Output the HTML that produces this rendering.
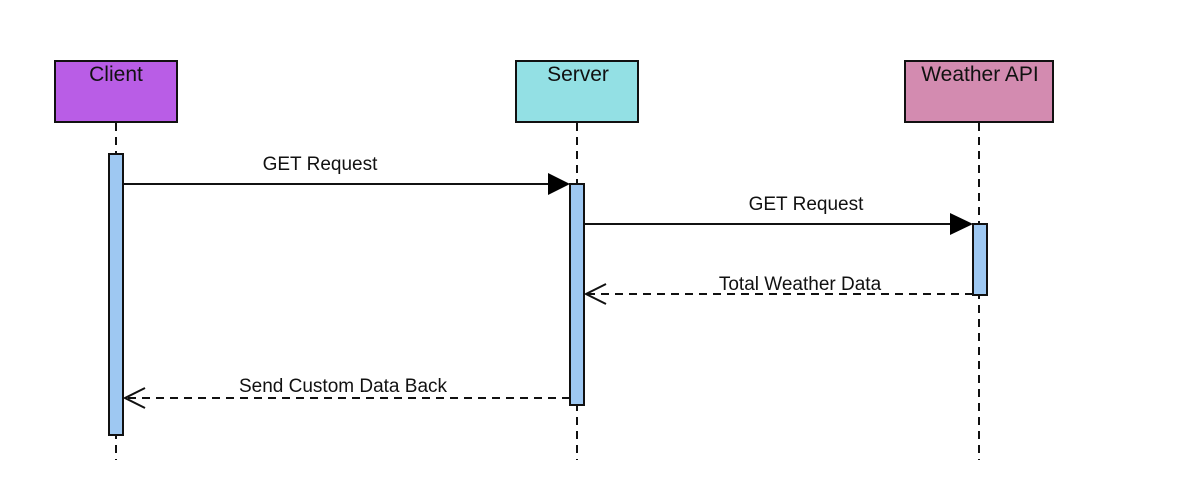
<!DOCTYPE html>
<html><head><style>body{margin:0;background:#fff}svg{display:block}text{font-family:"Liberation Sans",Arial,sans-serif;font-size:19px;fill:#111}.t{font-size:21px}</style></head>
<body>
<svg width="1196" height="500" xmlns="http://www.w3.org/2000/svg">
<g stroke="#111" stroke-width="2" stroke-dasharray="8,6">
<line x1="116" y1="123" x2="116" y2="460"/>
<line x1="577" y1="123" x2="577" y2="460"/>
<line x1="979" y1="123" x2="979" y2="460"/>
</g>
<g stroke="#111" stroke-width="2">
<rect x="55" y="61" width="122" height="61" fill="#b95de6"/>
<rect x="516" y="61" width="122" height="61" fill="#93e0e4"/>
<rect x="905" y="61" width="148" height="61" fill="#d38bb0"/>
<rect x="109" y="154" width="14" height="281" fill="#9ec8f2"/>
<rect x="570" y="184" width="14" height="221" fill="#9ec8f2"/>
<rect x="973" y="224" width="14" height="71" fill="#9ec8f2"/>
<line x1="123" y1="184" x2="550" y2="184"/>
<line x1="584" y1="224" x2="952" y2="224"/>
<line x1="973" y1="294" x2="588" y2="294" stroke-dasharray="8,6"/>
<line x1="570" y1="398" x2="127" y2="398" stroke-dasharray="8,6"/>
<polyline points="606,284 586,294 606,304" fill="none"/>
<polyline points="145,388 125,398 145,408" fill="none"/>
</g>
<polygon points="548,173 570,184 548,195" fill="#000"/>
<polygon points="950,213 973,224 950,235" fill="#000"/>
<g text-anchor="middle">
<text class="t" x="116" y="81">Client</text>
<text class="t" x="578" y="81">Server</text>
<text class="t" x="980" y="81">Weather API</text>
<text x="320" y="170">GET Request</text>
<text x="806" y="210">GET Request</text>
<text x="800" y="290">Total Weather Data</text>
<text x="343" y="392">Send Custom Data Back</text>
</g>
</svg>
</body></html>
